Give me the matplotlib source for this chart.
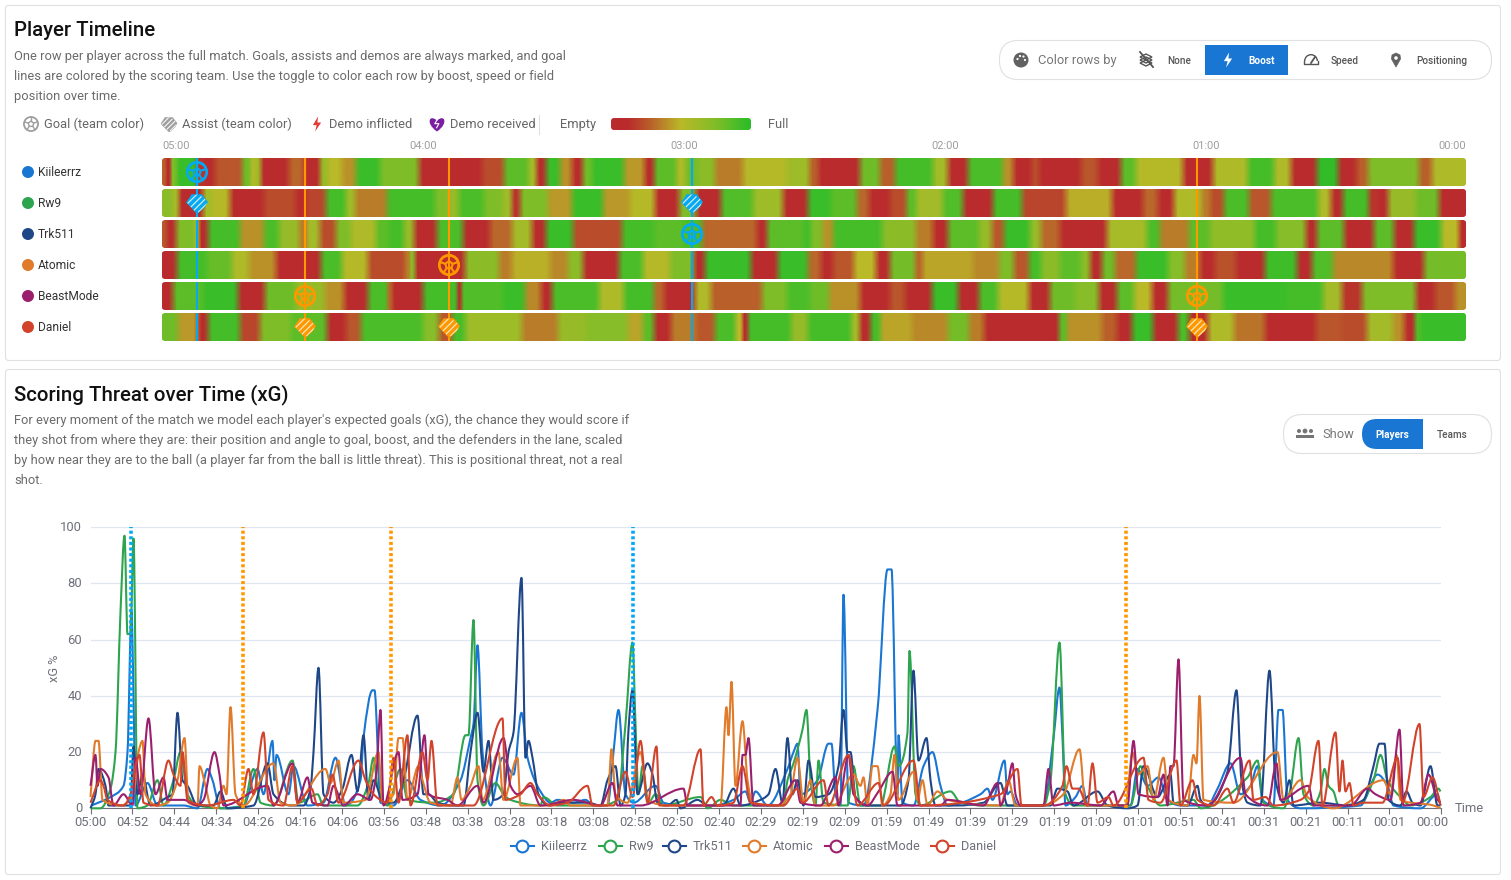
import numpy as np
import matplotlib
matplotlib.use("Agg")
import matplotlib.pyplot as plt
from matplotlib.colors import LinearSegmentedColormap, Normalize
from matplotlib.patches import Circle, FancyBboxPatch, PathPatch, Polygon, Rectangle, Wedge
from matplotlib.path import Path
from matplotlib.transforms import ScaledTranslation

plt.rcParams["font.family"] = ["Roboto", "DejaVu Sans"]

W, H = 1511, 880

players = ["Kiileerrz", "Rw9", "Trk511", "Atomic", "BeastMode", "Daniel"]
player_colors = ["#1976d2", "#2ea44f", "#1f4788", "#e07b2c", "#9c1f6e", "#d1432b"]

BLUE_TEAM = "#03a9f4"
ORANGE_TEAM = "#ff9800"

# Boost strips: each segment starts at a position (0-1304 along the match) with a boost level.
boost_pos = {
    "Kiileerrz": [0, 4, 9, 14, 36, 41, 53, 81, 89, 93, 98, 127, 142, 159, 165, 180, 194, 218, 257, 320, 342, 367, 374,
                  384, 398, 410, 421, 430, 462, 483, 492, 515, 523, 535, 553, 581, 625, 648, 656, 698, 718, 733, 771,
                  786, 806, 841, 851, 870, 877, 894, 919, 936, 959, 974, 1021, 1051, 1086, 1112, 1129, 1155, 1176,
                  1195, 1206, 1257, 1270],
    "Rw9": [0, 11, 16, 42, 49, 68, 102, 134, 144, 164, 184, 193, 225, 273, 286, 297, 322, 341, 350, 358, 386, 410, 441,
            468, 493, 517, 534, 559, 591, 621, 646, 669, 695, 707, 728, 745, 754, 781, 801, 831, 860, 904, 950, 981,
            996, 1012, 1040, 1048, 1062, 1087, 1109, 1156, 1169, 1181, 1207, 1216, 1226, 1254, 1277],
    "Trk511": [0, 4, 14, 34, 36, 46, 78, 102, 117, 138, 144, 158, 174, 189, 214, 227, 242, 252, 275, 301, 328, 350, 370,
               384, 411, 460, 492, 521, 540, 595, 605, 642, 648, 661, 671, 720, 754, 771, 786, 817, 830, 842, 868, 879,
               898, 945, 985, 998, 1027, 1048, 1093, 1114, 1144, 1155, 1182, 1212, 1232, 1252, 1279, 1298],
    "Atomic": [0, 15, 45, 70, 87, 114, 159, 180, 206, 244, 248, 252, 303, 337, 350, 388, 406, 421, 457, 481, 508, 532,
               543, 589, 616, 646, 659, 671, 692, 714, 728, 754, 760, 811, 837, 852, 867, 879, 898, 919, 928, 940, 953,
               974, 1006, 1023, 1038, 1053, 1074, 1103, 1135, 1150, 1171, 1231, 1262],
    "BeastMode": [0, 11, 41, 76, 103, 134, 163, 182, 206, 227, 229, 261, 297, 298, 341, 363, 379, 390, 437, 462, 492,
                  502, 533, 549, 600, 625, 648, 667, 698, 728, 743, 770, 796, 817, 836, 867, 888, 913, 937, 955, 972,
                  990, 1006, 1061, 1123, 1161, 1180, 1200, 1254, 1273, 1293],
    "Daniel": [0, 16, 36, 46, 78, 98, 129, 165, 184, 199, 261, 277, 290, 303, 360, 396, 424, 466, 481, 492, 509, 534,
               553, 574, 581, 585, 629, 646, 690, 697, 709, 718, 750, 786, 807, 822, 898, 904, 940, 955, 970, 991,
               1016, 1027, 1046, 1072, 1103, 1154, 1180, 1205, 1231, 1242, 1254, 1258],
}
boost_level = {
    "Kiileerrz": [28, 8, 75, 95, 15, 12, 25, 80, 55, 60, 6, 30, 6, 65, 50, 40, 95, 75, 5, 22, 85, 60, 6, 95, 40, 6, 80,
                  95, 42, 6, 85, 55, 80, 70, 35, 52, 62, 28, 6, 80, 28, 92, 60, 5, 90, 40, 6, 22, 6, 12, 25, 6, 85, 52,
                  5, 55, 92, 55, 5, 97, 6, 28, 75, 28, 55],
    "Rw9": [70, 60, 6, 60, 52, 8, 22, 6, 20, 92, 62, 35, 92, 75, 65, 90, 75, 62, 15, 75, 42, 95, 42, 52, 6, 75, 6, 88,
            62, 6, 95, 85, 30, 6, 22, 85, 60, 88, 6, 92, 20, 47, 6, 30, 6, 55, 35, 22, 90, 25, 90, 55, 6, 92, 15, 6,
            65, 80, 6],
    "Trk511": [25, 12, 75, 60, 12, 92, 40, 90, 65, 35, 60, 22, 75, 55, 85, 92, 65, 12, 90, 6, 30, 60, 6, 95, 22, 92, 85,
               90, 30, 6, 85, 92, 75, 40, 92, 70, 35, 6, 85, 65, 25, 95, 65, 30, 8, 58, 90, 35, 85, 68, 92, 72, 6, 85,
               6, 85, 6, 95, 50, 10],
    "Atomic": [8, 92, 82, 55, 40, 6, 90, 52, 22, 35, 70, 6, 70, 35, 48, 38, 70, 6, 90, 52, 75, 8, 95, 6, 95, 30, 10, 25,
               50, 6, 78, 30, 45, 38, 75, 25, 92, 70, 85, 70, 12, 80, 30, 95, 72, 35, 6, 24, 6, 93, 10, 88, 38, 6, 78],
    "BeastMode": [6, 85, 95, 10, 80, 65, 40, 12, 90, 30, 8, 92, 6, 88, 95, 38, 10, 90, 55, 92, 30, 6, 55, 28, 75, 90,
                  80, 40, 6, 25, 8, 95, 8, 90, 52, 6, 80, 72, 6, 85, 50, 6, 78, 95, 92, 60, 15, 75, 6, 25, 40],
    "Daniel": [80, 42, 12, 92, 20, 75, 85, 6, 25, 90, 72, 25, 92, 62, 35, 65, 72, 45, 85, 6, 35, 25, 90, 50, 6, 92, 65,
               92, 60, 12, 92, 45, 38, 78, 35, 6, 85, 40, 28, 6, 95, 6, 90, 12, 55, 33, 8, 25, 22, 60, 40, 6, 88, 95],
}

# Timeline events: position along the strip, team colour, scorer row, assist row.
goal_pos = [35, 143, 287, 530, 1035]
goal_team = [BLUE_TEAM, ORANGE_TEAM, ORANGE_TEAM, BLUE_TEAM, ORANGE_TEAM]
goal_scorer = ["Kiileerrz", "BeastMode", "Atomic", "Trk511", "BeastMode"]
goal_assist = ["Rw9", "Daniel", "Daniel", "Rw9", "Daniel"]

strip_tick_pos = [0, 261, 522, 783, 1044, 1304]
strip_tick_labels = ["05:00", "04:00", "03:00", "02:00", "01:00", "00:00"]

# xG series: sample index along the category axis and percentage value.
xg_x = {
    "Kiileerrz": [1, 20, 33, 37, 41, 43, 45, 57, 67, 93, 107, 117, 122, 130, 153, 167, 173, 182, 184, 186, 198, 203, 217,
                  233, 245, 255, 270, 273, 282, 284, 290, 303, 317, 330, 350, 370, 380, 383, 387, 392, 400, 412, 423,
                  431, 437, 450, 460, 467, 483, 495, 503, 517, 523, 528, 535, 543, 565, 573, 593, 623, 643, 655, 660,
                  665, 677, 697, 703, 707, 710, 727, 738, 741, 745, 750, 753, 758, 773, 787, 797, 801, 807, 808, 812,
                  823, 833, 842, 850, 857, 890, 897, 902, 914, 917, 920, 927, 953, 963, 969, 972, 975, 985, 992, 997,
                  1040, 1047, 1057, 1068, 1077, 1090, 1117, 1127, 1140, 1150, 1160, 1167, 1172, 1183, 1188, 1192, 1197,
                  1210, 1270, 1287, 1297, 1303, 1330, 1347, 1350],
    "Rw9": [0, 10, 20, 25, 30, 34, 37, 40, 43, 47, 57, 67, 73, 83, 90, 97, 107, 137, 153, 163, 170, 183, 202, 208, 227,
            233, 267, 278, 283, 287, 297, 310, 317, 343, 363, 375, 378, 383, 387, 393, 405, 413, 420, 450, 453, 467,
            510, 527, 535, 542, 545, 548, 552, 558, 565, 573, 610, 617, 630, 643, 693, 697, 703, 712, 716, 720, 725,
            728, 733, 757, 763, 770, 790, 804, 808, 817, 819, 825, 830, 860, 870, 893, 953, 960, 969, 975, 983, 1007,
            1040, 1050, 1057, 1070, 1103, 1110, 1157, 1167, 1173, 1193, 1200, 1208, 1213, 1223, 1230, 1234, 1238, 1243,
            1248, 1270, 1283, 1290, 1297, 1310, 1320, 1340, 1348, 1350],
    "Trk511": [0, 5, 8, 15, 18, 40, 43, 47, 52, 60, 77, 82, 87, 92, 97, 107, 123, 130, 137, 163, 177, 183, 200, 213, 220,
               223, 228, 233, 243, 252, 261, 267, 273, 278, 283, 293, 303, 313, 327, 333, 338, 347, 363, 373, 380, 387,
               393, 398, 403, 413, 418, 423, 431, 435, 438, 442, 448, 458, 473, 497, 510, 517, 525, 530, 535, 538, 542,
               547, 557, 562, 567, 577, 586, 590, 607, 617, 633, 643, 650, 670, 678, 685, 692, 697, 702, 707, 713, 718,
               725, 738, 748, 753, 757, 760, 765, 777, 810, 818, 823, 828, 836, 840, 845, 867, 893, 910, 917, 937, 960,
               967, 977, 983, 1007, 1017, 1037, 1047, 1053, 1067, 1080, 1083, 1097, 1107, 1110, 1117, 1137, 1146, 1151,
               1157, 1170, 1179, 1185, 1193, 1199, 1203, 1230, 1257, 1273, 1283, 1289, 1294, 1298, 1310, 1316, 1322,
               1330, 1340, 1347, 1350],
    "Atomic": [0, 5, 8, 12, 30, 43, 48, 52, 55, 67, 77, 87, 94, 98, 107, 109, 115, 120, 127, 133, 136, 140, 145, 153, 183,
               190, 203, 235, 240, 248, 253, 275, 288, 292, 303, 308, 312, 317, 328, 332, 340, 360, 367, 371, 380, 388,
               392, 408, 413, 427, 430, 460, 473, 480, 517, 521, 525, 537, 550, 557, 577, 630, 636, 638, 641, 645, 652,
               657, 662, 687, 700, 707, 713, 720, 725, 743, 763, 770, 773, 777, 782, 787, 792, 800, 804, 808, 823, 827,
               832, 837, 847, 857, 910, 918, 925, 953, 973, 989, 995, 1023, 1035, 1042, 1047, 1057, 1063, 1073, 1078,
               1097, 1103, 1106, 1109, 1113, 1143, 1187, 1193, 1210, 1217, 1243, 1293, 1300, 1306, 1310, 1343, 1350],
    "BeastMode": [0, 5, 7, 10, 18, 23, 33, 42, 45, 50, 58, 65, 73, 77, 83, 93, 107, 113, 124, 129, 133, 177, 183, 202,
                  207, 217, 222, 237, 243, 253, 267, 280, 286, 290, 293, 308, 312, 327, 334, 338, 357, 367, 387, 393,
                  413, 420, 427, 440, 450, 483, 510, 522, 527, 550, 593, 597, 650, 652, 655, 658, 663, 687, 705, 710,
                  730, 745, 748, 758, 763, 777, 788, 802, 807, 850, 857, 893, 907, 910, 917, 922, 925, 930, 953, 958,
                  963, 980, 1010, 1023, 1028, 1037, 1043, 1048, 1067, 1073, 1077, 1080, 1083, 1088, 1093, 1117, 1150,
                  1155, 1177, 1186, 1190, 1218, 1223, 1260, 1277, 1285, 1300, 1309, 1313, 1330, 1338, 1347, 1350],
    "Daniel": [0, 10, 13, 17, 33, 40, 45, 49, 53, 67, 78, 83, 90, 92, 97, 117, 143, 150, 158, 163, 173, 178, 193, 202, 207,
               221, 227, 237, 242, 248, 268, 275, 283, 297, 303, 308, 317, 320, 332, 337, 341, 347, 383, 412, 415, 430,
               440, 447, 460, 477, 497, 502, 523, 535, 542, 550, 557, 566, 569, 593, 610, 613, 621, 627, 643, 652, 660,
               693, 707, 712, 733, 738, 758, 767, 788, 793, 823, 830, 910, 927, 931, 953, 972, 976, 982, 988, 997,
               1002, 1007, 1018, 1023, 1053, 1058, 1070, 1086, 1090, 1102, 1107, 1123, 1137, 1143, 1159, 1163, 1175,
               1183, 1210, 1218, 1228, 1232, 1245, 1249, 1252, 1255, 1259, 1263, 1273, 1292, 1307, 1312, 1329, 1333,
               1342, 1350],
}
xg_y = {
    "Kiileerrz": [1, 4, 8, 20, 70, 40, 1, 9, 1, 1, 0, 14, 10, 0, 1, 14, 5, 24, 10, 19, 5, 15, 1, 2, 18, 1, 10, 25, 42, 42,
                  2, 1, 10, 3, 1, 10, 25, 30, 58, 20, 1, 18, 12, 34, 18, 6, 2, 3, 2, 3, 1, 1, 20, 35, 5, 2, 8, 2, 1, 1, 3,
                  6, 2, 6, 1, 14, 20, 23, 5, 10, 23, 23, 5, 1, 76, 2, 1, 35, 85, 85, 5, 26, 2, 1, 15, 20, 8, 1, 5, 7, 3,
                  17, 5, 6, 1, 1, 25, 43, 25, 1, 4, 8, 1, 1, 14, 8, 11, 3, 1, 1, 7, 16, 5, 8, 15, 3, 1, 35, 35, 3, 0, 1,
                  12, 8, 1, 0, 5, 1],
    "Rw9": [0, 0, 7, 20, 70, 97, 62, 62, 96, 0, 1, 10, 1, 10, 20, 5, 1, 0, 1, 14, 2, 1, 17, 2, 5, 1, 1, 9, 18, 8, 1, 14, 3,
            2, 5, 26, 26, 67, 10, 1, 9, 5, 3, 1, 4, 1, 1, 3, 30, 59, 30, 5, 15, 2, 5, 1, 4, 0, 3, 1, 1, 10, 16, 28, 35,
            10, 1, 17, 2, 1, 15, 1, 1, 22, 15, 27, 56, 5, 1, 6, 2, 1, 1, 10, 59, 5, 1, 1, 1, 15, 8, 1, 3, 0, 11, 17, 2,
            0, 7, 25, 5, 1, 6, 14, 8, 6, 1, 2, 10, 19, 10, 4, 1, 4, 7, 6],
    "Trk511": [0, 5, 14, 8, 1, 1, 22, 5, 12, 1, 4, 5, 34, 10, 8, 1, 1, 6, 0, 1, 16, 5, 1, 1, 7, 20, 50, 5, 2, 7, 19, 6, 26,
               3, 10, 2, 2, 10, 33, 5, 5, 2, 1, 1, 20, 34, 13, 24, 3, 5, 20, 27, 82, 18, 24, 18, 5, 1, 2, 2, 1, 10, 15, 1,
               5, 28, 42, 5, 16, 12, 2, 1, 3, 0, 3, 1, 1, 7, 1, 3, 5, 14, 2, 25, 5, 10, 1, 17, 4, 5, 15, 35, 20, 20, 4, 1,
               1, 10, 49, 17, 25, 10, 1, 1, 2, 9, 1, 1, 1, 7, 6, 1, 6, 1, 0, 1, 15, 4, 12, 2, 1, 8, 3, 1, 13, 42, 10, 2,
               1, 49, 10, 2, 10, 1, 2, 1, 3, 15, 23, 23, 3, 1, 6, 2, 1, 15, 1, 1],
    "Atomic": [4, 24, 24, 3, 1, 5, 20, 24, 5, 1, 2, 10, 25, 2, 1, 15, 8, 1, 0, 8, 5, 36, 5, 1, 16, 2, 1, 14, 9, 17, 2, 3, 20,
               2, 5, 25, 25, 3, 15, 10, 2, 1, 11, 3, 8, 15, 3, 20, 3, 18, 1, 1, 3, 1, 1, 21, 5, 2, 20, 3, 1, 1, 36, 26, 45,
               8, 31, 10, 2, 1, 5, 18, 2, 10, 1, 1, 12, 8, 11, 1, 15, 15, 1, 5, 19, 3, 13, 3, 10, 1, 6, 3, 1, 10, 1, 1, 5,
               21, 1, 1, 1, 20, 12, 15, 3, 18, 3, 1, 19, 16, 40, 3, 2, 20, 3, 10, 4, 0, 10, 5, 19, 3, 1, 0],
    "BeastMode": [8, 19, 8, 14, 11, 1, 5, 1, 18, 5, 32, 5, 11, 3, 3, 3, 1, 3, 20, 12, 1, 8, 1, 16, 2, 11, 2, 1, 8, 1, 5, 3,
                  13, 35, 1, 20, 3, 5, 26, 5, 3, 1, 8, 2, 25, 8, 5, 8, 1, 3, 1, 9, 1, 1, 7, 1, 1, 19, 19, 25, 1, 1, 10, 2,
                  1, 11, 1, 19, 5, 1, 6, 13, 1, 1, 3, 1, 9, 1, 8, 16, 5, 1, 1, 14, 1, 2, 1, 6, 1, 1, 24, 5, 4, 12, 1, 15, 15,
                  53, 3, 1, 18, 5, 1, 16, 3, 8, 1, 1, 7, 5, 3, 28, 1, 2, 12, 3, 2],
    "Daniel": [2, 10, 8, 3, 1, 5, 15, 19, 2, 1, 17, 12, 8, 20, 3, 1, 3, 1, 14, 5, 27, 3, 1, 15, 2, 7, 1, 5, 12, 2, 17, 10, 5,
               2, 18, 2, 26, 1, 20, 10, 24, 1, 1, 32, 3, 5, 9, 5, 1, 2, 8, 1, 1, 13, 4, 24, 2, 22, 1, 1, 21, 1, 4, 1, 2, 15,
               2, 1, 7, 2, 10, 1, 19, 1, 9, 1, 17, 1, 5, 14, 1, 1, 8, 15, 7, 7, 1, 16, 2, 4, 1, 18, 3, 2, 17, 1, 10, 3, 1, 7,
               2, 17, 3, 4, 1, 3, 6, 24, 1, 27, 6, 17, 6, 9, 1, 2, 2, 18, 2, 30, 4, 11, 1],
}

# Goal markers on the xG chart: sample index and scoring team.
xg_goal_x = [40, 152.3, 300.3, 542.8, 1035]
xg_goal_team = [BLUE_TEAM, ORANGE_TEAM, ORANGE_TEAM, BLUE_TEAM, ORANGE_TEAM]

xg_tick_labels = ["05:00", "04:52", "04:44", "04:34", "04:26", "04:16", "04:06", "03:56", "03:48", "03:38", "03:28",
                  "03:18", "03:08", "02:58", "02:50", "02:40", "02:29", "02:19", "02:09", "01:59", "01:49", "01:39",
                  "01:29", "01:19", "01:09", "01:01", "00:51", "00:41", "00:31", "00:21", "00:11", "00:01"]
y_ticks = [0, 20, 40, 60, 80, 100]

boost_cmap = LinearSegmentedColormap.from_list(
    "boost", [(0.0, "#b92b2d"), (0.12, "#b92b2d"), (0.28, "#b9602a"), (0.5, "#bab928"), (0.75, "#80bd28"), (1.0, "#28bd28")]
)

fig = plt.figure(figsize=(W / 100, H / 100), dpi=100, facecolor="white")


def axes_px(x0, y0, x1, y1, **kw):
    return fig.add_axes([x0 / W, 1 - y1 / H, (x1 - x0) / W, (y1 - y0) / H], **kw)


def smooth_path(x, y):
    """Monotone cubic path through the given points, so curves never overshoot below zero."""
    x, y = np.asarray(x, float), np.asarray(y, float)
    h = np.diff(x)
    d = np.diff(y) / h
    m = np.zeros_like(x)
    m[0], m[-1] = d[0], d[-1]
    for i in range(1, len(x) - 1):
        if d[i - 1] * d[i] > 0:
            w1, w2 = 2 * h[i] + h[i - 1], h[i] + 2 * h[i - 1]
            m[i] = (w1 + w2) / (w1 / d[i - 1] + w2 / d[i])
    verts = [(x[0], y[0])]
    codes = [Path.MOVETO]
    for i in range(len(h)):
        verts += [(x[i] + h[i] / 3, y[i] + m[i] * h[i] / 3),
                  (x[i + 1] - h[i] / 3, y[i + 1] - m[i + 1] * h[i] / 3),
                  (x[i + 1], y[i + 1])]
        codes += [Path.CURVE4] * 3
    return Path(verts, codes)


# ---------------------------------------------------------------- timeline strips
strip_ax = axes_px(162, 158, 1466, 341)
strip_ax.set_xlim(0, 1304)
strip_ax.set_ylim(341, 158)
strip_ax.axis("off")
norm = Normalize(0, 100)
for row, name in enumerate(players):
    top = 158 + 31 * row
    pos = boost_pos[name]
    lev = boost_level[name]
    ends = pos[1:] + [1304]
    verts_x, verts_v = [], []
    for a, b, v in zip(pos, ends, lev):
        edge = min(4.0, (b - a) * 0.35)
        verts_x += [a + edge, b - edge]
        verts_v += [v, v]
    verts_x[0], verts_x[-1] = 0, 1304
    X = np.vstack([verts_x, verts_x])
    Y = np.vstack([np.full(len(verts_x), top), np.full(len(verts_x), top + 28)])
    C = np.vstack([verts_v, verts_v])
    mesh = strip_ax.pcolormesh(X, Y, C, shading="gouraud", cmap=boost_cmap, norm=norm)
    clip = FancyBboxPatch((2.5, top + 2.5), 1299, 23, boxstyle="round,pad=2.5,rounding_size=3",
                          transform=strip_ax.transData, facecolor="none", edgecolor="none")
    strip_ax.add_patch(clip)
    mesh.set_clip_path(clip)
    for gx, gc in zip(goal_pos, goal_team):
        strip_ax.plot([gx, gx], [top, top + 28], color=gc, lw=1.5, solid_capstyle="butt", zorder=3)

# ---------------------------------------------------------------- xG chart
ax = axes_px(90.5, 527.3, 1440.5, 808.3)
ax.set_xlim(0, 1350)
ax.set_ylim(0, 100)
ax.patch.set_alpha(0)
for s in ["top", "left", "right"]:
    ax.spines[s].set_visible(False)
ax.spines["bottom"].set_color("#6e7079")
ax.spines["bottom"].set_linewidth(0.8)
ax.set_yticks(y_ticks)
ax.yaxis.grid(True, color="#e0e6f1", lw=0.9)
ax.set_axisbelow(True)
ax.tick_params(axis="y", length=0, labelsize=9.4, labelcolor="#6e7079", pad=6)
nudge_up = ScaledTranslation(0, 1.2 / 100, fig.dpi_scale_trans)
for t in ax.get_yticklabels():
    t.set_transform(t.get_transform() + nudge_up)
tick_x = [41.9 * i for i in range(len(xg_tick_labels))] + [1350]
ax.set_xticks(tick_x)
ax.set_xticklabels(xg_tick_labels + [""])
ax.tick_params(axis="x", length=4, width=0.8, color="#6e7079", labelsize=9.4, labelcolor="#6e7079", pad=1.8)
for name, col in zip(players, player_colors):
    ax.add_patch(PathPatch(smooth_path(xg_x[name], xg_y[name]), facecolor="none", edgecolor=col, lw=1.5,
                           joinstyle="round", clip_on=False, zorder=3))
for gx, gc in zip(xg_goal_x, xg_goal_team):
    ax.plot([gx, gx], [0, 100], color=gc, lw=2.6, linestyle=(0, (0.85, 0.7)), zorder=4, clip_on=False)

# ---------------------------------------------------------------- page furniture in pixel coordinates
ui = fig.add_axes([0, 0, 1, 1], zorder=10)
ui.set_xlim(0, W)
ui.set_ylim(H, 0)
ui.axis("off")


def label(x, y, s, size=12, color="#666666", weight="normal", ha="left", va="center", **kw):
    ui.text(x, y + 0.7, s, fontsize=size * 0.72, color=color, fontweight=weight, ha=ha, va=va, **kw)


def rounded(x0, y0, x1, y1, r, **kw):
    p = FancyBboxPatch((x0 + r, y0 + r), x1 - x0 - 2 * r, y1 - y0 - 2 * r,
                       boxstyle=f"round,pad={r},rounding_size={r}", **kw)
    ui.add_patch(p)
    return p


def ball_icon(cx, cy, r, color, lw=1.6):
    ui.add_patch(Circle((cx, cy), r * 0.88, facecolor="none", edgecolor=color, lw=lw))
    angles = np.deg2rad(np.array([-90, -18, 54, 126, 198]))
    px = cx + r * 0.36 * np.cos(angles)
    py = cy + r * 0.36 * np.sin(angles)
    ui.add_patch(Polygon(np.c_[px, py], closed=True, facecolor="none", edgecolor=color, lw=lw * 0.75))
    for a, sx, sy in zip(angles, px, py):
        ui.plot([sx, cx + r * 0.85 * np.cos(a)], [sy, cy + r * 0.85 * np.sin(a)], color=color, lw=lw * 0.75)


def shake_icon(cx, cy, r, color, stripe="white"):
    body = Polygon([(cx - r, cy - r * 0.05), (cx - r * 0.5, cy - r * 0.8), (cx + r * 0.45, cy - r * 0.8), (cx + r, cy - r * 0.1),
                    (cx + r * 0.75, cy + r * 0.35), (cx + r * 0.05, cy + r), (cx - r * 0.2, cy + r * 0.8)],
                   closed=True, facecolor=color, edgecolor=color, lw=0.4, joinstyle="round")
    ui.add_patch(body)
    for k, lo, hi in [(-0.42, -0.45, 0.45), (-0.1, -0.5, 0.5), (0.2, -0.5, 0.55), (0.5, -0.35, 0.4)]:
        line, = ui.plot([cx + r * (k + lo), cx + r * (k + hi)], [cy + r * (k - lo), cy + r * (k - hi)],
                        color=stripe, lw=0.85, alpha=0.9, solid_capstyle="round")
        line.set_clip_path(body)


def bolt_icon(cx, cy, s, color):
    ui.add_patch(Polygon([(cx + 0.15 * s, cy - s), (cx - 0.55 * s, cy + 0.15 * s), (cx - 0.05 * s, cy + 0.15 * s),
                          (cx - 0.25 * s, cy + s), (cx + 0.55 * s, cy - 0.2 * s), (cx + 0.05 * s, cy - 0.2 * s)],
                         closed=True, facecolor=color, edgecolor="none"))


def heart_icon(cx, cy, s, color):
    verts = [(cx, cy + s), (cx - s * 1.6, cy - s * 0.1), (cx - s * 1.0, cy - s * 1.4), (cx, cy - s * 0.45),
             (cx + s * 1.0, cy - s * 1.4), (cx + s * 1.6, cy - s * 0.1), (cx, cy + s)]
    ui.add_patch(PathPatch(Path(verts, [Path.MOVETO, Path.CURVE4, Path.CURVE4, Path.CURVE4, Path.CURVE4, Path.CURVE4, Path.CURVE4]),
                           facecolor=color, edgecolor="none"))
    ui.plot([cx + s * 0.05, cx - s * 0.3, cx + s * 0.25, cx - s * 0.05], [cy - s * 0.6, cy - s * 0.05, cy - s * 0.05, cy + s * 0.5],
            color="white", lw=0.8)


# Panels
rounded(5.5, 5.5, 1500.5, 360.5, 3, facecolor="none", edgecolor="#e0e0e0", lw=0.8)
rounded(5.5, 369.5, 1500.5, 874.5, 3, facecolor="none", edgecolor="#e0e0e0", lw=0.8)

BODY = 12.9

# Timeline heading
label(14, 30, "Player Timeline", size=20.4, color="#111111", weight="medium")
timeline_intro = ["One row per player across the full match. Goals, assists and demos are always marked, and goal",
                  "lines are colored by the scoring team. Use the toggle to color each row by boost, speed or field",
                  "position over time."]
for i, line in enumerate(timeline_intro):
    label(14, 56 + 20 * i, line, size=BODY, color="#6b6b6b")

# Mode toggle
rounded(999.5, 40.5, 1491.5, 79.5, 19, facecolor="white", edgecolor="#e0e0e0", lw=0.8)
ui.add_patch(Rectangle((1205, 45), 83, 30, facecolor="#1976d2", edgecolor="none"))
ui.add_patch(Circle((1021, 60), 7.5, facecolor="#616161", edgecolor="none"))
for dx, dy in [(-3.5, -1), (-1, -4), (2.5, -3.5), (4, 0)]:
    ui.add_patch(Circle((1021 + dx, 60 + dy), 1.1, facecolor="white", edgecolor="none"))
label(1038, 60, "Color rows by", size=BODY, color="#777777")
for k in (-3, 0, 3):
    ui.add_patch(Polygon([(1146 - 6, 60 + k), (1146, 60 + k - 3), (1146 + 6, 60 + k), (1146, 60 + k + 3)], closed=True,
                         facecolor="none", edgecolor="#555555", lw=1.0))
ui.plot([1140, 1153], [52, 67], color="#555555", lw=1.3)
label(1167, 60, "None", size=10, color="#555555", weight="medium")
bolt_icon(1228, 60, 7.5, "white")
label(1248, 60, "Boost", size=10, color="white", weight="bold")
ui.add_patch(Wedge((1311, 61), 7, 180, 360, width=1.4, facecolor="#555555", edgecolor="none"))
ui.plot([1304, 1304, 1318, 1318], [61, 64.5, 64.5, 61], color="#555555", lw=1)
ui.plot([1311, 1315], [63, 57], color="#555555", lw=1.3)
label(1331, 60, "Speed", size=10, color="#555555", weight="medium")
ui.add_patch(Polygon([(1396, 67), (1391.5, 59), (1392, 55), (1396, 53), (1400, 55), (1400.5, 59)], closed=True,
                     facecolor="#616161", edgecolor="#616161", lw=0.5, joinstyle="round"))
ui.add_patch(Circle((1396, 58), 1.8, facecolor="white", edgecolor="none"))
label(1416, 60, "Positioning", size=10, color="#555555", weight="medium")

# Timeline legend
ball_icon(31, 124, 8, "#9e9e9e", lw=1.3)
label(44, 124, "Goal (team color)", size=BODY, color="#666666")
shake_icon(169, 124, 8, "#9e9e9e")
label(182, 124, "Assist (team color)", size=BODY, color="#666666")
bolt_icon(317, 124, 7.5, "#e53935")
label(329, 124, "Demo inflicted", size=BODY, color="#666666")
heart_icon(437, 124, 7.5, "#7b1fa2")
label(450, 124, "Demo received", size=BODY, color="#666666")
ui.plot([539, 539], [115, 134], color="#e0e0e0", lw=0.8)
label(560, 124, "Empty", size=BODY, color="#666666")
label(768, 124, "Full", size=BODY, color="#666666")
grad = ui.imshow(np.linspace(0, 100, 256)[None, :], extent=(611, 751, 130, 118), cmap=boost_cmap, norm=norm, aspect="auto")
grad_clip = rounded(611, 118, 751, 130, 3, facecolor="none", edgecolor="none")
grad.set_clip_path(grad_clip)
ui.set_xlim(0, W)
ui.set_ylim(H, 0)

# Strip time labels
for p, t, align in zip(strip_tick_pos, strip_tick_labels, ["left", "center", "center", "center", "center", "right"]):
    label(162 + p, 145, t, size=11, color="#9e9e9e", ha=align)

# Row labels
for row, (name, col) in enumerate(zip(players, player_colors)):
    yc = 172 + 31 * row
    ui.add_patch(Circle((28, yc), 6, facecolor=col, edgecolor="none"))
    label(38, yc, name, size=12, color="#333333")

# Event markers on the strips
for gx, gc, sc, asst in zip(goal_pos, goal_team, goal_scorer, goal_assist):
    ball_icon(162 + gx, 172 + 31 * players.index(sc), 11, gc, lw=2.0)
    shake_icon(162 + gx, 172 + 31 * players.index(asst), 10.5, gc, stripe="#f4f4e0")

# xG heading
label(14, 394, "Scoring Threat over Time (xG)", size=20.4, color="#111111", weight="medium")
xg_intro = ["For every moment of the match we model each player's expected goals (xG), the chance they would score if",
            "they shot from where they are: their position and angle to goal, boost, and the defenders in the lane, scaled",
            "by how near they are to the ball (a player far from the ball is little threat). This is positional threat, not a real",
            "shot."]
for i, line in enumerate(xg_intro):
    label(14, 420 + 20 * i, line, size=BODY, color="#6b6b6b")

# Show toggle
rounded(1283.5, 414.5, 1491.5, 453.5, 19, facecolor="white", edgecolor="#e0e0e0", lw=0.8)
pill = Path([(1423, 419), (1377, 419), (1362, 419), (1362, 434), (1362, 449), (1377, 449), (1423, 449), (1423, 419)],
            [Path.MOVETO, Path.LINETO, Path.CURVE3, Path.CURVE3, Path.CURVE3, Path.CURVE3, Path.LINETO, Path.CLOSEPOLY])
ui.add_patch(PathPatch(pill, facecolor="#1976d2", edgecolor="none"))
for dx, rr in [(-6, 2), (0, 2.4), (6, 2)]:
    ui.add_patch(Circle((1305 + dx, 431), rr, facecolor="#757575", edgecolor="none"))
    ui.add_patch(Rectangle((1305 + dx - 3, 435), 6, 3, facecolor="#757575", edgecolor="none"))
label(1322, 434, "Show", size=BODY, color="#777777")
label(1392.5, 434, "Players", size=10, color="white", weight="bold", ha="center")
label(1452, 434, "Teams", size=10, color="#555555", weight="medium", ha="center")

# Axis captions
label(55, 668, "xG %", size=12.8, color="#6e7079", ha="center", rotation=90)
label(1455, 807.5, "Time", size=13, color="#6e7079")
label(1432, 821.3, "00:00", size=13, color="#6e7079", ha="center")

# Series legend
legend_x = [522, 610, 674, 754, 836, 942]
for x, name, col in zip(legend_x, players, player_colors):
    ui.plot([x - 11.5, x + 11.5], [846, 846], color=col, lw=1.5)
    ui.plot([x], [846], marker="o", ms=8.5, mfc="white", mec=col, mew=1.5)
    label(x + 19, 845.5, name, size=12.8, color="#6e7079")

fig.savefig("out.png", dpi=100)
